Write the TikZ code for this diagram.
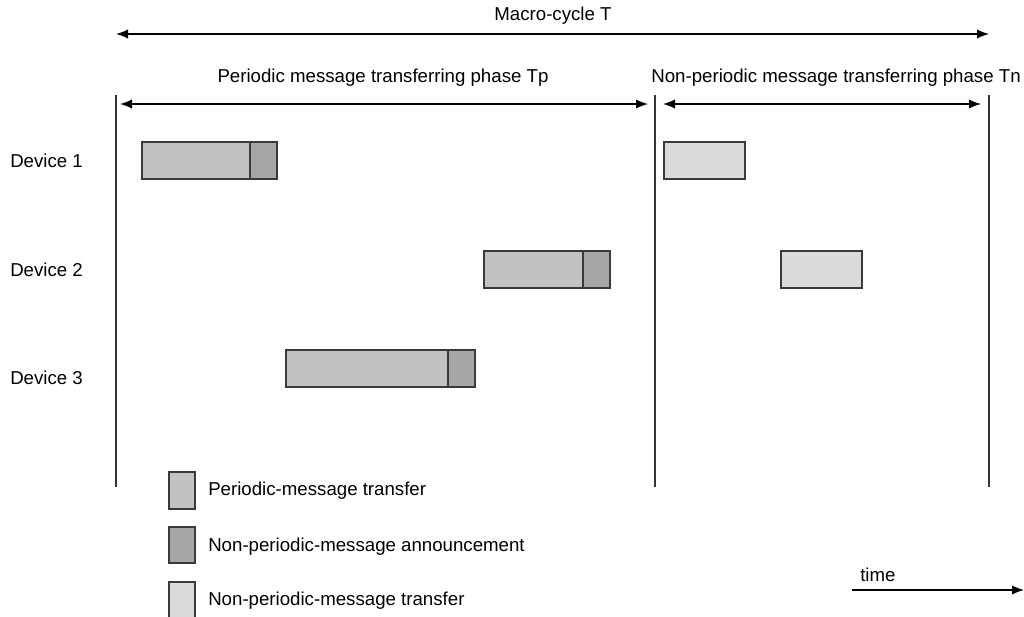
\documentclass[tikz,border=0pt]{standalone}
\usepackage{fontspec}
\setmainfont{Liberation Sans}
\usetikzlibrary{arrows.meta}
\definecolor{perc}{HTML}{C2C2C2}
\definecolor{annc}{HTML}{A6A6A6}
\definecolor{nonc}{HTML}{DADADA}
\definecolor{edgec}{HTML}{3A3A3A}
\tikzset{
  lbl/.style={font=\fontsize{14}{16}\selectfont, inner sep=0pt},
  slot/.style={draw=edgec, line width=1pt},
  vline/.style={draw=black!80, line width=0.8pt},
  dimarrow/.style={draw=black, line width=1pt, {Latex[length=9pt,width=7pt]}-{Latex[length=9pt,width=7pt]}},
}
\begin{document}
\begin{tikzpicture}[x=0.75pt,y=-0.75pt]
\useasboundingbox (0,0) rectangle (1024,617);
% titles
\node[lbl] (tmacro) at (553,16) {Macro-cycle T};
\coordinate (ma) at (116,34);
\coordinate (mb) at (989,34);
\draw[dimarrow] (ma) -- (mb);
\node[lbl] (tp) at (383,78) {Periodic message transferring phase Tp};
\node[lbl, anchor=east] (tn) at (1021,78) {Non-periodic message transferring phase Tn};
% vertical lines
\coordinate (v1t) at (116,95); \coordinate (v1b) at (116,487);
\coordinate (v2t) at (655,95); \coordinate (v2b) at (655,487);
\coordinate (v3t) at (989,95); \coordinate (v3b) at (989,487);
\draw[vline] (v1t) -- (v1b);
\draw[vline] (v2t) -- (v2b);
\draw[vline] (v3t) -- (v3b);
% phase arrows
\coordinate (pa) at (120,104); \coordinate (pb) at (648,104);
\coordinate (na) at (663,104); \coordinate (nb) at (981,104);
\draw[dimarrow] (pa) -- (pb);
\draw[dimarrow] (na) -- (nb);
% device labels
\node[lbl, anchor=west] (d1) at (10,161) {Device 1};
\node[lbl, anchor=west] (d2) at (10,270) {Device 2};
\node[lbl, anchor=west] (d3) at (10,378) {Device 3};
% device 1
\filldraw[slot, fill=perc] (142,142) rectangle (250,179);
\filldraw[slot, fill=annc] (250,142) rectangle (277,179);
\filldraw[slot, fill=nonc] (664,142) rectangle (745,179);
% device 2
\filldraw[slot, fill=perc] (484,251) rectangle (583,288);
\filldraw[slot, fill=annc] (583,251) rectangle (610,288);
\filldraw[slot, fill=nonc] (781,251) rectangle (862,288);
% device 3
\filldraw[slot, fill=perc] (286,350) rectangle (448,387);
\filldraw[slot, fill=annc] (448,350) rectangle (475,387);
% legend
\filldraw[slot, fill=perc] (169,472) rectangle (195,509);
\filldraw[slot, fill=annc] (169,527) rectangle (195,563);
\filldraw[slot, fill=nonc] (169,582) rectangle (195,625);
\node[lbl, anchor=west] (l1) at (208,491) {Periodic-message transfer};
\node[lbl, anchor=west] (l2) at (208,547) {Non-periodic-message announcement};
\node[lbl, anchor=west] (l3) at (208,601) {Non-periodic-message transfer};
% time arrow
\node[lbl, anchor=west] (ttime) at (860,575) {time};
\coordinate (ta) at (852,590); \coordinate (tb) at (1024,590);
\draw[line width=1pt, -{Latex[length=9pt,width=7pt]}] (ta) -- (tb);
\end{tikzpicture}
\end{document}
